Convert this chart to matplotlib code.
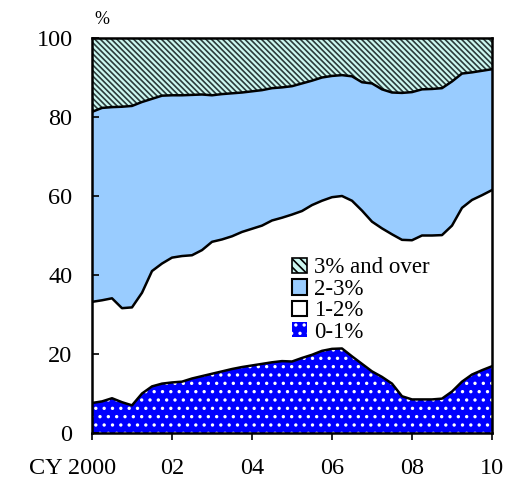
import matplotlib
matplotlib.use("Agg")
import matplotlib.pyplot as plt
import matplotlib.patches as mpatches
import matplotlib.transforms as mtransforms
import numpy as np

# quarterly points, CY 2000 to 2010
years = np.arange(2000, 2010.01, 0.25)

# cumulative shares (%)
upto_1pct = [7.6, 8.0, 8.8, 7.8, 7.0, 10.0, 11.8, 12.5, 12.8, 13.0, 13.8,
             14.4, 15.0, 15.6, 16.2, 16.7, 17.1, 17.5, 17.9, 18.2, 18.1,
             19.0, 19.8, 20.8, 21.3, 21.4, 19.4, 17.5, 15.6, 14.2, 12.5,
             9.3, 8.5, 8.5, 8.5, 8.7, 10.5, 13.0, 14.8, 15.9, 16.9]
upto_2pct = [33.2, 33.6, 34.1, 31.6, 31.8, 35.5, 41.0, 42.9, 44.4, 44.8, 45.0,
             46.3, 48.4, 49.0, 49.8, 50.9, 51.7, 52.5, 53.8, 54.5, 55.3,
             56.2, 57.7, 58.8, 59.7, 60.0, 58.8, 56.3, 53.5, 51.8, 50.3,
             48.9, 48.8, 50.0, 50.0, 50.1, 52.5, 57.0, 59.0, 60.2, 61.5]
upto_3pct = [81.3, 82.3, 82.5, 82.6, 82.8, 83.8, 84.6, 85.4, 85.5, 85.5, 85.6,
             85.7, 85.5, 85.8, 86.0, 86.2, 86.5, 86.8, 87.3, 87.5, 87.8,
             88.5, 89.2, 90.0, 90.4, 90.6, 90.3, 88.8, 88.5, 87.0, 86.2,
             86.1, 86.3, 87.0, 87.1, 87.3, 89.0, 91.0, 91.3, 91.7, 92.1]
total = [100.0] * len(years)

xticks = [2000, 2002, 2004, 2006, 2008, 2010]
xtick_labels = ['CY 2000', '02', '04', '06', '08', '10']
labels = ['3% and over', '2-3%', '1-2%', '0-1%']

plt.rcParams['font.family'] = ['Liberation Serif', 'DejaVu Serif']
plt.rcParams['hatch.linewidth'] = 1.2

fig = plt.figure(figsize=(5.06, 4.78), dpi=100)
ax = fig.add_axes([92 / 506, 45 / 478, 400 / 506, 395 / 478])

zero = [0.0] * len(years)
ax.fill_between(years, zero, upto_1pct, facecolor='#0000ff', edgecolor='white',
                hatch='..', linewidth=0)
ax.fill_between(years, upto_1pct, upto_2pct, facecolor='white', linewidth=0)
ax.fill_between(years, upto_2pct, upto_3pct, facecolor='#99ccff', linewidth=0)
ax.fill_between(years, upto_3pct, total, facecolor='#ccf7f0', edgecolor='#2b3b3b',
                hatch='\\\\\\\\\\\\', linewidth=0)
for line in (upto_1pct, upto_2pct, upto_3pct):
    ax.plot(years, line, color='black', lw=1.8)

ax.set_xlim(2000, 2010)
ax.set_ylim(0, 100)
ax.set_yticks([0, 20, 40, 60, 80, 100])
ax.set_xticks(xticks)
ax.set_xticklabels(xtick_labels)
ax.tick_params(axis='y', direction='in', length=5, width=1.2, pad=14, labelsize=17.5)
ax.tick_params(axis='x', direction='out', length=5, width=1.2, pad=13, labelsize=17.5)
for s in ax.spines.values():
    s.set_linewidth(1.8)

# keep "2000" centred on its tick, with "CY" hanging to the left
first = ax.get_xticklabels()[0]
first.set_ha('right')
first.set_transform(first.get_transform() +
                    mtransforms.ScaledTranslation(0.24, 0, fig.dpi_scale_trans))

ax.text(0.005, 1.025, '%', transform=ax.transAxes, ha='left', va='bottom',
        fontsize=13)

handles = [
    mpatches.Patch(facecolor='#ccf7f0', edgecolor='black', hatch='\\\\\\\\', lw=1.2),
    mpatches.Patch(facecolor='#99ccff', edgecolor='black', lw=1.5),
    mpatches.Patch(facecolor='white', edgecolor='black', lw=1.5),
    mpatches.Patch(facecolor='#0000ff', edgecolor='white', hatch='..', lw=0),
]
ax.legend(handles, labels, loc='upper left', bbox_to_anchor=(0.46, 0.485),
          frameon=False, fontsize=16.5, handlelength=0.65, handleheight=0.65,
          handletextpad=0.3, labelspacing=0.02, borderpad=0.2)

fig.savefig('out.png', dpi=100)
